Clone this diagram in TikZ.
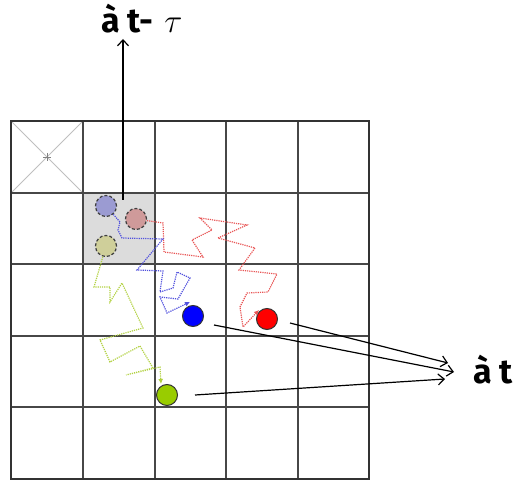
\documentclass[tikz,border=0pt]{standalone}
\usepackage{graphicx}
\usepackage{fontspec}
\newfontfamily\lblfont{Fira Sans}
\usetikzlibrary{arrows.meta}
\definecolor{ghostblue}{HTML}{9B9BD2}
\definecolor{ghostpink}{HTML}{CF9A9A}
\definecolor{ghostolive}{HTML}{CFCF9A}
\definecolor{ballblue}{HTML}{0000FF}
\definecolor{ballred}{HTML}{FF0000}
\definecolor{ballgreen}{HTML}{99CC00}
\definecolor{walkred}{HTML}{E85555}
\definecolor{walkblue}{HTML}{5050DD}
\definecolor{walkgreen}{HTML}{B2D142}
\definecolor{cellgray}{HTML}{DCDCDC}
\begin{document}
\begin{tikzpicture}[x=1pt,y=-1pt,
  gridline/.style={draw=black!72, line width=1.3pt},
  walk/.style={line width=1.2pt, dash pattern=on 1.2pt off 1pt, -{Latex[length=5pt,width=5pt]}},
  ghost/.style={circle, draw=black!75, dash pattern=on 3pt off 2pt, line width=1.2pt, minimum size=21pt, inner sep=0pt},
  ball/.style={circle, draw=black!80, line width=1pt, minimum size=21pt, inner sep=0pt},
  pointer/.style={line width=1.2pt, -{Straight Barb[length=6pt,width=11pt]}},
  lbl/.style={font=\lblfont\bfseries\fontsize{34}{34}\selectfont, inner sep=0pt, anchor=base west}]
\useasboundingbox (0,0) rectangle (515,481);
% gray cell
\fill[cellgray] (83,193) rectangle (155,264);
% crossed cell
\draw[black!25, line width=0.8pt] (11,121) -- (83,193) (83,121) -- (11,193);
\draw[black!50, line width=0.8pt] (43,157) -- (51,157) (47,153) -- (47,161);
% grid
\foreach \v in {83,155,226,298} {
  \draw[gridline] (\v,121) -- (\v,479);
}
\foreach \h in {193,264,336,407} {
  \draw[gridline] (11,\h) -- (369,\h);
}
\draw[draw=black!80, line width=2pt] (11,121) rectangle (369,479);
% ghost circles
\node[ghost, fill=ghostblue] (gb) at (106,206) {};
\node[ghost, fill=ghostpink] (gp) at (136,219) {};
\node[ghost, fill=ghostolive] (go) at (106,246) {};
% balls
\node[ball, fill=ballblue] (bb) at (193,316) {};
\node[ball, fill=ballred] (br) at (267,319) {};
\node[ball, fill=ballgreen] (bg) at (167,395) {};
% walks
\draw[walk, walkred] (gp) -- (163,223) -- (164,252) -- (203,257) -- (192,240) -- (212,230) -- (200,218) -- (247,225) -- (218,238) -- (255,248) -- (239,270) -- (277,274) -- (268,292) -- (247,293) -- (240,307) -- (243,327) -- (259,310);
\draw[walk, walkblue] (gb) -- (120,222) -- (118,230) -- (122,238) -- (163,239) -- (137,270) -- (163,271) -- (160,292) -- (173,288) -- (177,272) -- (190,278) -- (178,299) -- (160,297) -- (167,313) -- (190,302);
\draw[walk, walkgreen] (go) -- (94,287) -- (110,287) -- (110,302) -- (122,283) -- (143,328) -- (100,340) -- (110,362) -- (140,346) -- (153,368) -- (126,375) -- (160,367) -- (161,384);
% labels
\node[lbl] (past) at (101,33) {à t-\hspace{11pt}\scalebox{1.35}{$\tau$}};
\node[lbl] (now) at (473,384) {à t};
% pointers
\coordinate (up0) at (123,200);
\coordinate (up1) at (123,39);
\draw[pointer] (up0) -- (up1);
\coordinate (bs) at (214,325);
\coordinate (bt) at (454,372);
\coordinate (rs) at (290,323);
\coordinate (rt) at (448,363);
\coordinate (gs) at (195,395);
\coordinate (gt) at (445,379);
\draw[pointer] (bs) -- (bt);
\draw[pointer] (rs) -- (rt);
\draw[pointer] (gs) -- (gt);
\end{tikzpicture}
\end{document}
